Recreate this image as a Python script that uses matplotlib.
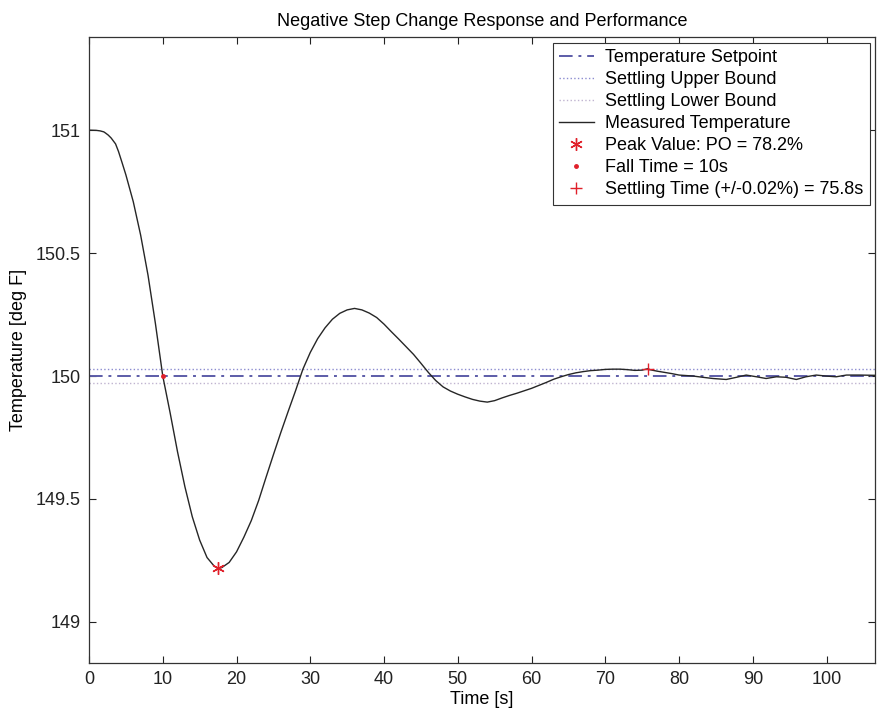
import matplotlib
matplotlib.use("Agg")
import matplotlib.pyplot as plt

plt.rcParams['font.family'] = ['Liberation Sans', 'DejaVu Sans']

# Measured temperature response (time in s, temperature in deg F)
time_s = [0, 1, 1.5, 2, 2.2, 2.6, 3, 3.6, 4, 4.5, 5, 6, 7, 8, 9, 10, 11, 12,
          13, 14, 15, 16, 17, 17.5, 18, 19, 20, 21, 22, 23, 24, 25, 26, 27,
          28, 29, 30, 31, 32, 33, 34, 35, 36, 37, 38, 39, 40, 41, 42, 43, 44,
          45, 46, 47, 48, 49, 50, 51, 52, 53, 54, 55, 56, 57, 58, 59, 60, 61,
          62, 63, 64, 65, 66, 67, 68, 69, 70, 71, 72, 73, 74, 75, 75.8, 76,
          77, 78, 79, 80, 81.9, 83.2, 84.6, 86.4, 87.8, 89.1, 90.5, 91.8,
          93.2, 94.5, 95.9, 97.2, 98.6, 99.9, 101.3, 102.7, 104.5, 106.3, 107]
temp_f = [151.0, 150.999, 150.997, 150.993, 150.989, 150.980, 150.968,
          150.944, 150.913, 150.866, 150.818, 150.709, 150.573, 150.410,
          150.214, 150.0, 149.850, 149.692, 149.550, 149.428, 149.333,
          149.262, 149.226, 149.218, 149.221, 149.242, 149.285, 149.345,
          149.412, 149.494, 149.588, 149.680, 149.770, 149.856, 149.940,
          150.028, 150.096, 150.152, 150.196, 150.231, 150.255, 150.269,
          150.275, 150.269, 150.256, 150.238, 150.211, 150.180, 150.150,
          150.119, 150.088, 150.052, 150.015, 149.982, 149.956, 149.939,
          149.926, 149.915, 149.905, 149.898, 149.894, 149.900, 149.911,
          149.921, 149.930, 149.940, 149.950, 149.962, 149.974, 149.987,
          149.997, 150.006, 150.013, 150.018, 150.022, 150.024, 150.027,
          150.028, 150.028, 150.026, 150.023, 150.024, 150.030, 150.026,
          150.020, 150.015, 150.010, 150.004, 150.000, 149.995, 149.990,
          149.986, 149.995, 150.004, 149.997, 149.990, 149.997, 149.995,
          149.986, 149.997, 150.004, 150.000, 149.997, 150.004, 150.004,
          150.003, 150.003]

setpoint = 150.0
upper_bound = 150.03
lower_bound = 149.97

peak_time, peak_value = 17.5, 149.218
fall_time, fall_value = 10.0, 150.0
settle_time, settle_value = 75.8, 150.03

x_ticks = [0, 10, 20, 30, 40, 50, 60, 70, 80, 90, 100]
y_ticks = [149, 149.5, 150, 150.5, 151]
y_tick_labels = ['149', '149.5', '150', '150.5', '151']

fig = plt.figure(figsize=(8.77, 7.15), dpi=100)
ax = fig.add_axes([0.1015, 0.0727, 0.8965, 0.8753])

t_span = [0, 107]
ax.plot(t_span, [setpoint, setpoint], linestyle='-.', color='#5c5ca8',
        linewidth=1.4, label='Temperature Setpoint', dashes=(7, 3, 1.5, 3))
ax.plot(t_span, [upper_bound, upper_bound], linestyle=':', color='#8c8cd0',
        linewidth=1.0, label='Settling Upper Bound')
ax.plot(t_span, [lower_bound, lower_bound], linestyle=':', color='#c0b4d0',
        linewidth=1.0, label='Settling Lower Bound')
ax.plot(time_s, temp_f, color='#262626', linewidth=1.0,
        label='Measured Temperature')
# MATLAB-style asterisk marker: six spokes
ax.plot([peak_time], [peak_value], linestyle='none', marker=(6, 2, 0),
        color='#e0202a', markersize=9, markeredgewidth=1.0,
        label='Peak Value: PO = 78.2%')
ax.plot([fall_time], [fall_value], linestyle='none', marker='.',
        color='#e0202a', markersize=5, label='Fall Time = 10s')
ax.plot([settle_time], [settle_value], linestyle='none', marker='+',
        color='#e0202a', markersize=9, markeredgewidth=1.0,
        label='Settling Time (+/-0.02%) = 75.8s')

ax.set_xlim(0, 106.6)
ax.set_ylim(148.833, 151.378)
ax.set_xticks(x_ticks)
ax.set_yticks(y_ticks)
ax.set_yticklabels(y_tick_labels)
ax.tick_params(direction='in', length=5, width=0.8, top=True, right=True,
               labelsize=13, colors='#222222', pad=6)
for sp in ax.spines.values():
    sp.set_linewidth(0.9)
    sp.set_color('#333333')

ax.set_xlabel('Time [s]', fontsize=13, labelpad=2)
ax.set_ylabel('Temperature [deg F]', fontsize=13, labelpad=6)
ax.set_title('Negative Step Change Response and Performance', fontsize=13,
             pad=8)

leg = ax.legend(loc='upper right', fontsize=13, frameon=True, fancybox=False,
                edgecolor='#333333', framealpha=1.0, borderpad=0.35,
                labelspacing=0.28, handlelength=1.9, handletextpad=0.65,
                borderaxespad=0.3, numpoints=1)
leg.get_frame().set_linewidth(0.8)

fig.savefig('out.png', dpi=100)
